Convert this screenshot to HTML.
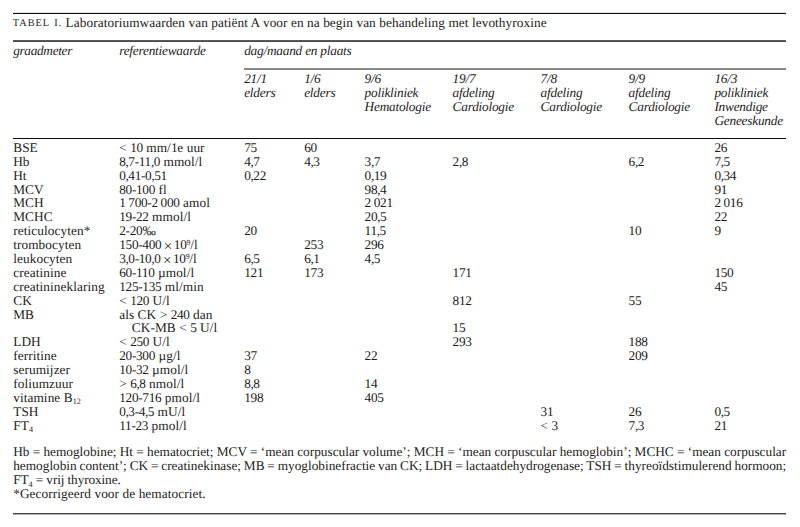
<!DOCTYPE html>
<html><head><meta charset="utf-8"><style>
html,body{margin:0;padding:0;background:#fff;}
body{width:800px;height:527px;position:relative;overflow:hidden;font-family:"Liberation Serif",serif;color:#1c1c1c;text-rendering:geometricPrecision;}
.t{position:absolute;white-space:nowrap;font-size:13.30px;line-height:14px;}
.i{font-style:italic;letter-spacing:-0.22px;}
.w{letter-spacing:0.08px;}
.n{letter-spacing:-0.30px;}
.j{width:773px;text-align:justify;text-align-last:justify;white-space:normal;word-spacing:-1.5px;letter-spacing:0.00px;}
.l{position:absolute;background:#1a1a1a;}
sup{font-size:7.8px;vertical-align:0;position:relative;top:-4.2px;line-height:0;letter-spacing:0;}
sub{font-size:8.2px;vertical-align:0;position:relative;top:2.3px;line-height:0;letter-spacing:0;}
.x{padding:0 1.6px 0 2.4px;letter-spacing:0;font-size:15px;line-height:0;position:relative;top:1.5px;}
.c{letter-spacing:-0.6px;}
.sc{font-size:10.3px;letter-spacing:1px;}
.f3{letter-spacing:-0.12px;}
</style></head><body>

<div class="l" style="left:13px;top:12px;width:773px;height:1px;background:#e4e4e4"></div>
<div class="l" style="left:13px;top:13px;width:773px;height:1px;background:#0c0c0c"></div>
<div class="l" style="left:13px;top:40px;width:773px;height:1px;background:#5c5c5c"></div>
<div class="l" style="left:13px;top:41px;width:773px;height:1px;background:#4a4a4a"></div>
<div class="l" style="left:244px;top:68px;width:542px;height:2px;background:#888888"></div>
<div class="l" style="left:13px;top:138px;width:773px;height:1px;background:#0c0c0c"></div>
<div class="l" style="left:13px;top:513px;width:773px;height:1px;background:#444444"></div>
<div class="l" style="left:13px;top:514px;width:773px;height:1px;background:#b0b0b0"></div>
<div class="t sc" style="left:12.8px;top:16.82px">TABEL</div>
<div class="t sc" style="left:54.3px;top:16.82px">I.</div>
<div class="t w" style="left:65.6px;top:15.81px;letter-spacing:0.07px">Laboratoriumwaarden van pati&euml;nt A voor en na begin van behandeling met levothyroxine</div>
<div class="t i" style="left:13.2px;top:43.71px;letter-spacing:-0.32px">graadmeter</div>
<div class="t i" style="left:119.2px;top:43.71px;">referentiewaarde</div>
<div class="t i" style="left:244.2px;top:43.71px;">dag/maand en plaats</div>
<div class="t i" style="left:244.2px;top:71.51px;">21/1</div>
<div class="t i" style="left:244.2px;top:85.51px;">elders</div>
<div class="t i" style="left:304.2px;top:71.51px;">1/6</div>
<div class="t i" style="left:304.2px;top:85.51px;">elders</div>
<div class="t i" style="left:364.6px;top:71.51px;">9/6</div>
<div class="t i" style="left:364.6px;top:85.51px;">polikliniek</div>
<div class="t i" style="left:364.6px;top:99.51px;">Hematologie</div>
<div class="t i" style="left:452.6px;top:71.51px;">19/7</div>
<div class="t i" style="left:452.6px;top:85.51px;">afdeling</div>
<div class="t i" style="left:452.6px;top:99.51px;">Cardiologie</div>
<div class="t i" style="left:540.6px;top:71.51px;">7/8</div>
<div class="t i" style="left:540.6px;top:85.51px;">afdeling</div>
<div class="t i" style="left:540.6px;top:99.51px;">Cardiologie</div>
<div class="t i" style="left:628.6px;top:71.51px;">9/9</div>
<div class="t i" style="left:628.6px;top:85.51px;">afdeling</div>
<div class="t i" style="left:628.6px;top:99.51px;">Cardiologie</div>
<div class="t i" style="left:714.4px;top:71.51px;">16/3</div>
<div class="t i" style="left:714.4px;top:85.51px;">polikliniek</div>
<div class="t i" style="left:714.4px;top:99.51px;">Inwendige</div>
<div class="t i" style="left:714.4px;top:113.51px;">Geneeskunde</div>
<div class="t w" style="left:13.2px;top:140.91px;">BSE</div>
<div class="t w" style="left:119.2px;top:140.91px;">&lt; <span class="n">10</span> mm/<span class="n">1</span>e uur</div>
<div class="t w" style="left:244.2px;top:140.91px;"><span class="n">75</span></div>
<div class="t w" style="left:304.2px;top:140.91px;"><span class="n">60</span></div>
<div class="t w" style="left:714.4px;top:140.91px;"><span class="n">26</span></div>
<div class="t w" style="left:13.2px;top:154.80px;">Hb</div>
<div class="t w" style="left:119.2px;top:154.80px;"><span class="n">8<span class="c">,</span>7-11<span class="c">,</span>0</span> mmol/l</div>
<div class="t w" style="left:244.2px;top:154.80px;"><span class="n">4<span class="c">,</span>7</span></div>
<div class="t w" style="left:304.2px;top:154.80px;"><span class="n">4<span class="c">,</span>3</span></div>
<div class="t w" style="left:364.6px;top:154.80px;"><span class="n">3<span class="c">,</span>7</span></div>
<div class="t w" style="left:452.6px;top:154.80px;"><span class="n">2<span class="c">,</span>8</span></div>
<div class="t w" style="left:628.6px;top:154.80px;"><span class="n">6<span class="c">,</span>2</span></div>
<div class="t w" style="left:714.4px;top:154.80px;"><span class="n">7<span class="c">,</span>5</span></div>
<div class="t w" style="left:13.2px;top:168.69px;">Ht</div>
<div class="t w" style="left:119.2px;top:168.69px;"><span class="n">0<span class="c">,</span>41-0<span class="c">,</span>51</span></div>
<div class="t w" style="left:244.2px;top:168.69px;"><span class="n">0<span class="c">,</span>22</span></div>
<div class="t w" style="left:364.6px;top:168.69px;"><span class="n">0<span class="c">,</span>19</span></div>
<div class="t w" style="left:714.4px;top:168.69px;"><span class="n">0<span class="c">,</span>34</span></div>
<div class="t w" style="left:13.2px;top:182.58px;">MCV</div>
<div class="t w" style="left:119.2px;top:182.58px;"><span class="n">80-100</span> fl</div>
<div class="t w" style="left:364.6px;top:182.58px;"><span class="n">98<span class="c">,</span>4</span></div>
<div class="t w" style="left:714.4px;top:182.58px;"><span class="n">91</span></div>
<div class="t w" style="left:13.2px;top:196.47px;">MCH</div>
<div class="t w" style="left:119.2px;top:196.47px;"><span class="n">1</span>&#8201;<span class="n">700-2</span>&#8201;<span class="n">000</span> amol</div>
<div class="t w" style="left:364.6px;top:196.47px;"><span class="n">2</span>&#8201;<span class="n">021</span></div>
<div class="t w" style="left:714.4px;top:196.47px;"><span class="n">2</span>&#8201;<span class="n">016</span></div>
<div class="t w" style="left:13.2px;top:210.36px;">MCHC</div>
<div class="t w" style="left:119.2px;top:210.36px;"><span class="n">19-22</span> mmol/l</div>
<div class="t w" style="left:364.6px;top:210.36px;"><span class="n">20<span class="c">,</span>5</span></div>
<div class="t w" style="left:714.4px;top:210.36px;"><span class="n">22</span></div>
<div class="t w" style="left:13.2px;top:224.25px;">reticulocyten*</div>
<div class="t w" style="left:119.2px;top:224.25px;"><span class="n">2-20</span>&#8240;</div>
<div class="t w" style="left:244.2px;top:224.25px;"><span class="n">20</span></div>
<div class="t w" style="left:364.6px;top:224.25px;"><span class="n">11<span class="c">,</span>5</span></div>
<div class="t w" style="left:628.6px;top:224.25px;"><span class="n">10</span></div>
<div class="t w" style="left:714.4px;top:224.25px;"><span class="n">9</span></div>
<div class="t w" style="left:13.2px;top:238.14px;">trombocyten</div>
<div class="t w" style="left:119.2px;top:238.14px;"><span class="n">150-400</span><span class="x">&times;</span><span class="n">10</span><sup><span class="n">9</span></sup>/l</div>
<div class="t w" style="left:304.2px;top:238.14px;"><span class="n">253</span></div>
<div class="t w" style="left:364.6px;top:238.14px;"><span class="n">296</span></div>
<div class="t w" style="left:13.2px;top:252.03px;">leukocyten</div>
<div class="t w" style="left:119.2px;top:252.03px;"><span class="n">3<span class="c">,</span>0-10<span class="c">,</span>0</span><span class="x">&times;</span><span class="n">10</span><sup><span class="n">9</span></sup>/l</div>
<div class="t w" style="left:244.2px;top:252.03px;"><span class="n">6<span class="c">,</span>5</span></div>
<div class="t w" style="left:304.2px;top:252.03px;"><span class="n">6<span class="c">,</span>1</span></div>
<div class="t w" style="left:364.6px;top:252.03px;"><span class="n">4<span class="c">,</span>5</span></div>
<div class="t w" style="left:13.2px;top:265.92px;">creatinine</div>
<div class="t w" style="left:119.2px;top:265.92px;"><span class="n">60-110</span> &micro;mol/l</div>
<div class="t w" style="left:244.2px;top:265.92px;"><span class="n">121</span></div>
<div class="t w" style="left:304.2px;top:265.92px;"><span class="n">173</span></div>
<div class="t w" style="left:452.6px;top:265.92px;"><span class="n">171</span></div>
<div class="t w" style="left:714.4px;top:265.92px;"><span class="n">150</span></div>
<div class="t w" style="left:13.2px;top:279.81px;">creatinineklaring</div>
<div class="t w" style="left:119.2px;top:279.81px;"><span class="n">125-135</span> ml/min</div>
<div class="t w" style="left:714.4px;top:279.81px;"><span class="n">45</span></div>
<div class="t w" style="left:13.2px;top:293.70px;">CK</div>
<div class="t w" style="left:119.2px;top:293.70px;">&lt; <span class="n">120</span> U/l</div>
<div class="t w" style="left:452.6px;top:293.70px;"><span class="n">812</span></div>
<div class="t w" style="left:628.6px;top:293.70px;"><span class="n">55</span></div>
<div class="t w" style="left:13.2px;top:307.59px;">MB</div>
<div class="t w" style="left:119.2px;top:307.59px;">als CK &gt; <span class="n">240</span> dan</div>
<div class="t w" style="left:119.2px;top:321.48px;"><span style="padding-left:12.6px">CK-MB &lt; <span class="n">5</span> U/l</span></div>
<div class="t w" style="left:452.6px;top:321.48px;"><span class="n">15</span></div>
<div class="t w" style="left:13.2px;top:335.37px;">LDH</div>
<div class="t w" style="left:119.2px;top:335.37px;">&lt; <span class="n">250</span> U/l</div>
<div class="t w" style="left:452.6px;top:335.37px;"><span class="n">293</span></div>
<div class="t w" style="left:628.6px;top:335.37px;"><span class="n">188</span></div>
<div class="t w" style="left:13.2px;top:349.26px;">ferritine</div>
<div class="t w" style="left:119.2px;top:349.26px;"><span class="n">20-300</span> &micro;g/l</div>
<div class="t w" style="left:244.2px;top:349.26px;"><span class="n">37</span></div>
<div class="t w" style="left:364.6px;top:349.26px;"><span class="n">22</span></div>
<div class="t w" style="left:628.6px;top:349.26px;"><span class="n">209</span></div>
<div class="t w" style="left:13.2px;top:363.15px;">serumijzer</div>
<div class="t w" style="left:119.2px;top:363.15px;"><span class="n">10-32</span> &micro;mol/l</div>
<div class="t w" style="left:244.2px;top:363.15px;"><span class="n">8</span></div>
<div class="t w" style="left:13.2px;top:377.04px;">foliumzuur</div>
<div class="t w" style="left:119.2px;top:377.04px;">&gt; <span class="n">6<span class="c">,</span>8</span> nmol/l</div>
<div class="t w" style="left:244.2px;top:377.04px;"><span class="n">8<span class="c">,</span>8</span></div>
<div class="t w" style="left:364.6px;top:377.04px;"><span class="n">14</span></div>
<div class="t w" style="left:13.2px;top:390.93px;">vitamine B<sub>12</sub></div>
<div class="t w" style="left:119.2px;top:390.93px;"><span class="n">120-716</span> pmol/l</div>
<div class="t w" style="left:244.2px;top:390.93px;"><span class="n">198</span></div>
<div class="t w" style="left:364.6px;top:390.93px;"><span class="n">405</span></div>
<div class="t w" style="left:13.2px;top:404.82px;">TSH</div>
<div class="t w" style="left:119.2px;top:404.82px;"><span class="n">0<span class="c">,</span>3-4<span class="c">,</span>5</span> mU/l</div>
<div class="t w" style="left:540.6px;top:404.82px;"><span class="n">31</span></div>
<div class="t w" style="left:628.6px;top:404.82px;"><span class="n">26</span></div>
<div class="t w" style="left:714.4px;top:404.82px;"><span class="n">0<span class="c">,</span>5</span></div>
<div class="t w" style="left:13.2px;top:418.71px;">FT<sub>4</sub></div>
<div class="t w" style="left:119.2px;top:418.71px;"><span class="n">11-23</span> pmol/l</div>
<div class="t w" style="left:540.6px;top:418.71px;">&lt; <span class="n">3</span></div>
<div class="t w" style="left:628.6px;top:418.71px;"><span class="n">7<span class="c">,</span>3</span></div>
<div class="t w" style="left:714.4px;top:418.71px;"><span class="n">21</span></div>
<div class="t j" style="left:13.2px;top:445.31px;">Hb = hemoglobine; Ht = hematocriet; MCV = &lsquo;mean corpuscular volume&rsquo;; MCH = &lsquo;mean corpuscular hemoglobin&rsquo;; MCHC = &lsquo;mean corpuscular</div>
<div class="t j" style="left:13.2px;top:459.31px;">hemoglobin content&rsquo;; CK = creatinekinase; MB = myoglobinefractie van CK; LDH = lactaatdehydrogenase; TSH = thyreo&iuml;dstimulerend hormoon;</div>
<div class="t w f3" style="left:13.2px;top:473.31px;">FT<sub>4</sub> = vrij thyroxine.</div>
<div class="t w" style="left:13.2px;top:487.31px;">*Gecorrigeerd voor de hematocriet.</div>
</body></html>
